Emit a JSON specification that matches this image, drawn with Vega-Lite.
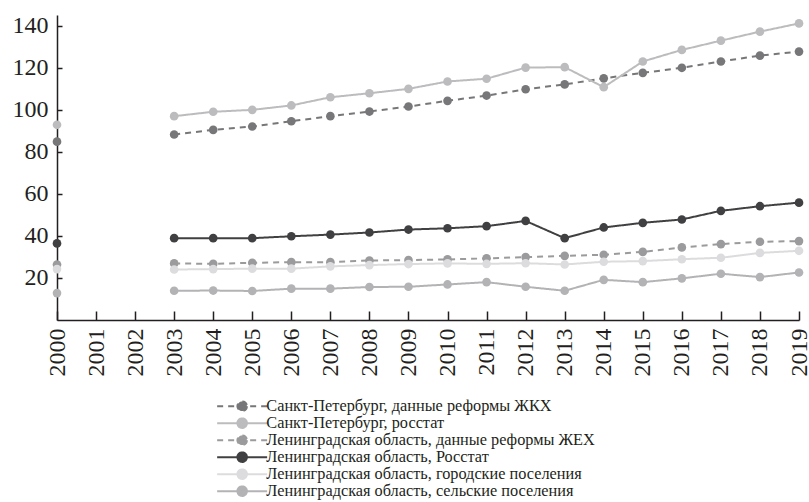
{
  "$schema": "https://vega.github.io/schema/vega-lite/v6.json",
  "width": 742,
  "height": 305,
  "autosize": {"type": "none"},
  "padding": {"left": 57, "top": 15, "right": 10, "bottom": 182},
  "background": "white",
  "config": {
    "view": {"stroke": null},
    "font": "Liberation Serif",
    "axis": {
      "grid": false,
      "title": null,
      "labelFont": "Liberation Serif",
      "labelFontSize": 24,
      "labelColor": "#231f20",
      "domainColor": "#231f20",
      "tickColor": "#231f20",
      "domainWidth": 1.5,
      "tickWidth": 1.5
    },
    "legend": {
      "labelFont": "Liberation Serif",
      "labelFontSize": 16.3,
      "labelColor": "#231f20",
      "labelLimit": 500
    }
  },
  "data": {
    "values": [
      {"year": 2000, "Санкт-Петербург, данные реформы ЖКХ": 84.8, "Санкт-Петербург, росстат": 92.8, "Ленинградская область, данные реформы ЖЕХ": 26.4, "Ленинградская область, Росстат": 36.4, "Ленинградская область, городские поселения": 24.2, "Ленинградская область, сельские поселения": 12.8},
      {"year": 2003, "Санкт-Петербург, данные реформы ЖКХ": 88.2, "Санкт-Петербург, росстат": 96.9, "Ленинградская область, данные реформы ЖЕХ": 26.9, "Ленинградская область, Росстат": 38.9, "Ленинградская область, городские поселения": 24.0, "Ленинградская область, сельские поселения": 13.9},
      {"year": 2004, "Санкт-Петербург, данные реформы ЖКХ": 90.4, "Санкт-Петербург, росстат": 99.0, "Ленинградская область, данные реформы ЖЕХ": 26.7, "Ленинградская область, Росстат": 38.9, "Ленинградская область, городские поселения": 24.2, "Ленинградская область, сельские поселения": 14.0},
      {"year": 2005, "Санкт-Петербург, данные реформы ЖКХ": 92.0, "Санкт-Петербург, росстат": 99.9, "Ленинградская область, данные реформы ЖЕХ": 27.2, "Ленинградская область, Росстат": 38.9, "Ленинградская область, городские поселения": 24.4, "Ленинградская область, сельские поселения": 13.8},
      {"year": 2006, "Санкт-Петербург, данные реформы ЖКХ": 94.5, "Санкт-Петербург, росстат": 102.0, "Ленинградская область, данные реформы ЖЕХ": 27.5, "Ленинградская область, Росстат": 39.8, "Ленинградская область, городские поселения": 24.4, "Ленинградская область, сельские поселения": 14.9},
      {"year": 2007, "Санкт-Петербург, данные реформы ЖКХ": 96.9, "Санкт-Петербург, росстат": 105.9, "Ленинградская область, данные реформы ЖЕХ": 27.5, "Ленинградская область, Росстат": 40.6, "Ленинградская область, городские поселения": 25.5, "Ленинградская область, сельские поселения": 14.9},
      {"year": 2008, "Санкт-Петербург, данные реформы ЖКХ": 99.1, "Санкт-Петербург, росстат": 107.8, "Ленинградская область, данные реформы ЖЕХ": 28.3, "Ленинградская область, Росстат": 41.6, "Ленинградская область, городские поселения": 26.1, "Ленинградская область, сельские поселения": 15.7},
      {"year": 2009, "Санкт-Петербург, данные реформы ЖКХ": 101.5, "Санкт-Петербург, росстат": 109.9, "Ленинградская область, данные реформы ЖЕХ": 28.5, "Ленинградская область, Росстат": 43.0, "Ленинградская область, городские поселения": 26.6, "Ленинградская область, сельские поселения": 15.8},
      {"year": 2010, "Санкт-Петербург, данные реформы ЖКХ": 104.2, "Санкт-Петербург, росстат": 113.4, "Ленинградская область, данные реформы ЖЕХ": 28.8, "Ленинградская область, Росстат": 43.6, "Ленинградская область, городские поселения": 26.9, "Ленинградская область, сельские поселения": 16.9},
      {"year": 2011, "Санкт-Петербург, данные реформы ЖКХ": 106.7, "Санкт-Петербург, росстат": 114.7, "Ленинградская область, данные реформы ЖЕХ": 29.3, "Ленинградская область, Росстат": 44.6, "Ленинградская область, городские поселения": 26.7, "Ленинградская область, сельские поселения": 18.0},
      {"year": 2012, "Санкт-Петербург, данные реформы ЖКХ": 109.7, "Санкт-Петербург, росстат": 120.0, "Ленинградская область, данные реформы ЖЕХ": 29.9, "Ленинградская область, Росстат": 47.1, "Ленинградская область, городские поселения": 27.0, "Ленинградская область, сельские поселения": 15.8},
      {"year": 2013, "Санкт-Петербург, данные реформы ЖКХ": 112.0, "Санкт-Петербург, росстат": 120.2, "Ленинградская область, данные реформы ЖЕХ": 30.5, "Ленинградская область, Росстат": 38.9, "Ленинградская область, городские поселения": 26.4, "Ленинградская область, сельские поселения": 13.9},
      {"year": 2014, "Санкт-Петербург, данные реформы ЖКХ": 114.9, "Санкт-Петербург, росстат": 110.7, "Ленинградская область, данные реформы ЖЕХ": 31.0, "Ленинградская область, Росстат": 44.0, "Ленинградская область, городские поселения": 27.7, "Ленинградская область, сельские поселения": 19.1},
      {"year": 2015, "Санкт-Петербург, данные реформы ЖКХ": 117.5, "Санкт-Петербург, росстат": 122.9, "Ленинградская область, данные реформы ЖЕХ": 32.4, "Ленинградская область, Росстат": 46.2, "Ленинградская область, городские поселения": 28.0, "Ленинградская область, сельские поселения": 18.0},
      {"year": 2016, "Санкт-Петербург, данные реформы ЖКХ": 119.9, "Санкт-Петербург, росстат": 128.4, "Ленинградская область, данные реформы ЖЕХ": 34.5, "Ленинградская область, Росстат": 47.8, "Ленинградская область, городские поселения": 28.9, "Ленинградская область, сельские поселения": 19.8},
      {"year": 2017, "Санкт-Петербург, данные реформы ЖКХ": 122.9, "Санкт-Петербург, росстат": 132.8, "Ленинградская область, данные реформы ЖЕХ": 36.1, "Ленинградская область, Росстат": 51.9, "Ленинградская область, городские поселения": 29.6, "Ленинградская область, сельские поселения": 22.0},
      {"year": 2018, "Санкт-Петербург, данные реформы ЖКХ": 125.7, "Санкт-Петербург, росстат": 137.1, "Ленинградская область, данные реформы ЖЕХ": 37.2, "Ленинградская область, Росстат": 54.1, "Ленинградская область, городские поселения": 31.9, "Ленинградская область, сельские поселения": 20.4},
      {"year": 2019, "Санкт-Петербург, данные реформы ЖКХ": 127.6, "Санкт-Петербург, росстат": 141.0, "Ленинградская область, данные реформы ЖЕХ": 37.5, "Ленинградская область, Росстат": 55.8, "Ленинградская область, городские поселения": 32.9, "Ленинградская область, сельские поселения": 22.6}
    ]
  },
  "transform": [
    {"fold": ["Санкт-Петербург, данные реформы ЖКХ", "Санкт-Петербург, росстат", "Ленинградская область, данные реформы ЖЕХ", "Ленинградская область, Росстат", "Ленинградская область, городские поселения", "Ленинградская область, сельские поселения"], "as": ["series", "value"]}
  ],
  "encoding": {
    "x": {
      "field": "year",
      "type": "ordinal",
      "scale": {"type": "point", "padding": 0, "domain": [2000, 2001, 2002, 2003, 2004, 2005, 2006, 2007, 2008, 2009, 2010, 2011, 2012, 2013, 2014, 2015, 2016, 2017, 2018, 2019]},
      "axis": {"labelAngle": -90, "tickSize": -9, "labelPadding": 17, "labelFont": "Liberation Serif"}
    },
    "y": {
      "field": "value",
      "type": "quantitative",
      "scale": {"domain": [0, 145], "nice": false},
      "axis": {"values": [20, 40, 60, 80, 100, 120, 140], "tickSize": -5, "labelPadding": 14, "labelFont": "Liberation Serif"}
    },
    "color": {
      "field": "series",
      "type": "nominal",
      "scale": {
        "domain": ["Санкт-Петербург, данные реформы ЖКХ", "Санкт-Петербург, росстат", "Ленинградская область, данные реформы ЖЕХ", "Ленинградская область, Росстат", "Ленинградская область, городские поселения", "Ленинградская область, сельские поселения"],
        "range": ["#77777a", "#bcbcbf", "#9b9b9d", "#404042", "#dcdcde", "#b3b3b6"]
      },
      "legend": {
        "title": null,
        "orient": "none",
        "legendX": 177,
        "legendY": 383,
        "symbolType": "M-5,0H5M0.95,0A0.95,0.95,0,1,1,-0.95,0A0.95,0.95,0,1,1,0.95,0Z",
        "symbolSize": 100,
        "symbolStrokeWidth": 2,
        "labelOffset": 16,
        "rowPadding": -1,
        "labelLimit": 500,
        "encode": {
          "symbols": {"update": {"fill": {"scale": "color", "field": "value"}, "fillOpacity": {"value": 1}, "opacity": {"value": 1}}}
        }
      }
    }
  },
  "layer": [
    {
      "transform": [{"filter": "datum.year >= 2003"}],
      "mark": {"type": "line", "strokeWidth": 2},
      "encoding": {
        "strokeDash": {
          "field": "series",
          "type": "nominal",
          "scale": {
            "domain": ["Санкт-Петербург, данные реформы ЖКХ", "Санкт-Петербург, росстат", "Ленинградская область, данные реформы ЖЕХ", "Ленинградская область, Росстат", "Ленинградская область, городские поселения", "Ленинградская область, сельские поселения"],
            "range": [[6, 5], [1, 0], [6, 5], [1, 0], [1, 0], [1, 0]]
          },
          "legend": {
            "title": null,
            "orient": "none",
            "legendX": 177,
            "legendY": 383
          }
        }
      }
    },
    {
      "mark": {"type": "point", "filled": true, "size": 75, "opacity": 1}
    }
  ]
}
